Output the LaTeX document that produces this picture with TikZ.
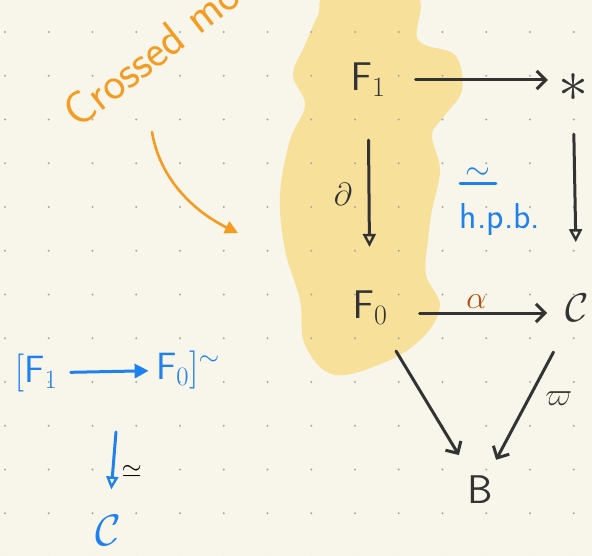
\RequirePackage{fix-cm}
\documentclass[tikz,border=0pt]{standalone}
\usetikzlibrary{arrows.meta,positioning}

\definecolor{paper}{HTML}{F8F6EB}
\definecolor{blob}{HTML}{F6E09A}
\definecolor{ink}{HTML}{333333}
\definecolor{inkblue}{HTML}{1F80F0}
\definecolor{inkorange}{HTML}{F49B22}
\definecolor{inkbrown}{HTML}{B4500F}
\definecolor{griddot}{HTML}{A9A9A3}

\tikzset{
  obj/.style={text=ink, font=\fontsize{40}{44}\selectfont, inner sep=2pt},
  mapto/.style={draw=ink, line width=3pt, line cap=round,
    -{Straight Barb[length=9pt,width=18pt,line width=3pt]}},
  fibto/.style={draw=ink, line width=3pt, line cap=round,
    -{Triangle[open,length=13pt,width=13pt,line width=2.4pt]}},
  lbl/.style={font=\fontsize{32}{34}\selectfont},
  blueto/.style={draw=inkblue, line width=3pt, line cap=round,
    -{Triangle[length=14pt,width=14pt]}},
  bluefib/.style={draw=inkblue, line width=3pt, line cap=round,
    -{Triangle[open,length=13pt,width=12pt,line width=2.4pt]}},
}

\begin{document}
\begin{tikzpicture}[x=1pt,y=-1pt]
  \useasboundingbox (0,0) rectangle (592,556);
  \fill[paper] (0,0) rectangle (592,556);
  \clip (0,0) rectangle (592,556);
  % highlighted part
  \fill[blob] plot[smooth cycle, tension=0.6] coordinates {
    (330,-5) (415,-5) (418,40) (455,55) (462,90) (445,115) (432,135)
    (440,170) (432,210) (428,240) (426,275) (440,305) (425,335)
    (390,360) (335,375) (305,345) (300,300) (285,250) (280,195)
    (290,140) (305,105) (293,75) (305,45) (318,15)};
  % dotted paper
  \foreach \i in {0,...,13}
    \foreach \j in {0,...,12}
      \fill[griddot] (5+43.75*\i, 32+43.75*\j) circle (1.2pt);

  % the square
  \node[obj] (F1) at (368,80) {$\mathsf{F}_1$};
  \node[obj, font=\fontsize{60}{60}\selectfont] (pt) at (573,88) {$*$};
  \node[obj] (F0) at (370,308) {$\mathsf{F}_0$};
  \node[obj] (C) at (577,308) {$\mathcal{C}$};
  \node[obj] (B) at (480,490) {$\mathsf{B}$};

  \draw[mapto, shorten <=28pt, shorten >=8pt] (F1.east |- 0,80) -- (pt.west |- 0,80);
  \draw[fibto, shorten <=41pt, shorten >=42pt] (F1) -- node[lbl, text=ink, left=12pt] {$\partial$} (F0);
  \draw[fibto, shorten <=30pt, shorten >=50pt] (pt) -- (C);
  \draw[mapto, shorten <=30pt, shorten >=16pt] (F0.east |- 0,313) -- node[lbl, text=inkbrown, above=0pt] {$\alpha$} (C.west |- 0,313);
  \draw[mapto, shorten <=28pt, shorten >=22pt] (F0) -- (B);
  \draw[mapto, shorten <=32pt, shorten >=16pt] (C) -- node[lbl, text=ink, right=12pt] {$\varpi$} (B);

  % homotopy pullback
  \node[lbl, text=inkblue] (hsim) at (478,174) {$\sim$};
  \draw[inkblue, line width=3pt, line cap=round] ([xshift=-2pt]hsim.south west) -- ([xshift=2pt]hsim.south east);
  \node[lbl, text=inkblue, font=\sffamily\fontsize{36}{38}\selectfont] (hpb) at (500,220) {h.p.b.};

  % crossed module as a space
  \node[text=inkblue, font=\fontsize{38}{40}\selectfont] (lF1) at (36,373) {$[\mathsf{F}_1$};
  \node[text=inkblue, font=\fontsize{38}{40}\selectfont] (lF0) at (188,370) {$\mathsf{F}_0]^{\sim}$};
  \draw[blueto, shorten <=10pt, shorten >=4pt] (lF1) -- (lF0);
  \coordinate (lbar) at (116,432);
  \node[text=inkblue, font=\fontsize{44}{48}\selectfont] (lC) at (108,530) {$\mathcal{C}$};
  \draw[bluefib, shorten >=22pt] (lbar) -- node[lbl, right=4pt, font=\fontsize{26}{26}\selectfont] {$\simeq$} (lC);

  % annotation
  \node[text=inkorange, rotate=38, anchor=base west, font=\sffamily\fontsize{46}{46}\selectfont] (title) at (76,132) {Crossed mo};
  \coordinate (hint) at (152,132);
  \coordinate (blobtip) at (238,233);
  \draw[inkorange, line width=2.6pt, line cap=round, -{Triangle[length=13pt,width=13pt]}]
    (hint) .. controls (160,180) and (195,212) .. (blobtip);
\end{tikzpicture}
\end{document}
